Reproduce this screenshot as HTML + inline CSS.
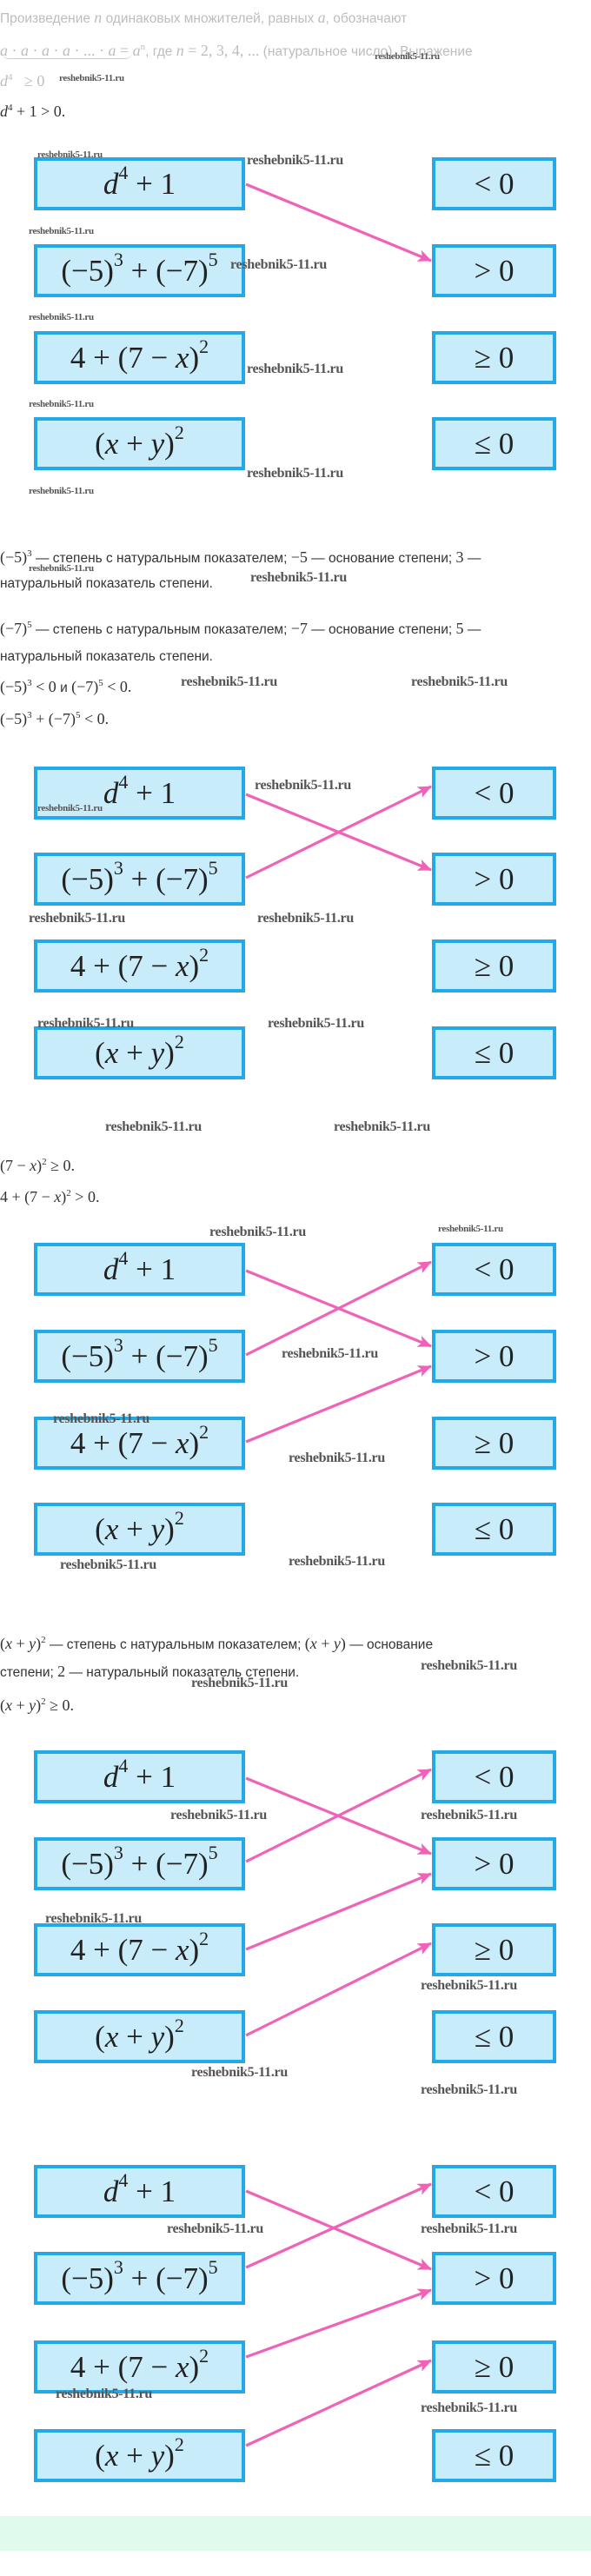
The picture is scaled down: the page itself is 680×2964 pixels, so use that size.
<!DOCTYPE html>
<html><head><meta charset="utf-8"><style>
*{margin:0;padding:0;box-sizing:border-box}
body{width:680px;height:2964px;position:relative;background:#fff;overflow:hidden;font-family:"Liberation Sans",sans-serif;color:#333}
.t{position:absolute;left:0;font-size:15.5px;white-space:nowrap;line-height:20px}
.m{font-family:"Liberation Serif",serif;font-size:18px}
.g{color:#bdbdbd}
.b{position:absolute;height:61px;border:4px solid #22a9ea;background:#c9ecfb;font-family:"Liberation Serif",serif;font-size:35px;color:#222;text-align:center;line-height:54px;white-space:nowrap}
.l{left:39px;width:243px}
.r{left:497px;width:143px}
.b sup{font-size:22px;line-height:0;position:relative;top:-4px;vertical-align:super}
.t sup{font-size:11px}
.w{position:absolute;font-family:"Liberation Serif",serif;font-weight:bold;color:#555;white-space:nowrap;letter-spacing:-0.3px}
.ws{font-size:11px}.wb{font-size:16px}
</style></head><body>

<div class="t g" style="top:10px">Произведение <i class="m">n</i> одинаковых множителей, равных <i class="m">a</i>, обозначают</div>
<div class="t g" style="top:44px"><span class="m"><i>a</i> · <i>a</i> · <i>a</i> · <i>a</i> · ... · <i>a</i> = <i>a</i><sup>n</sup></span>, где <span class="m"><i>n</i> = 2, 3, 4, ...</span> (натуральное число). Выражение</div>
<div style="position:absolute;left:2px;top:60px;width:150px;height:8px;border-bottom:1.5px solid #ccc;border-radius:0 0 8px 8px"></div>
<div class="t g m" style="top:79px"><i>d</i><sup>4</sup> &nbsp; ≥ 0</div>
<div class="t m" style="top:114px;color:#333"><i>d</i><sup>4</sup> + 1 &gt; 0.</div>

<div class="t" style="top:627px"><span class="m">(−5)<sup>3</sup></span> — степень с натуральным показателем; <span class="m">−5</span> — основание степени; <span class="m">3</span> —</div>
<div class="t" style="top:662px">натуральный показатель степени.</div>
<div class="t" style="top:709px"><span class="m">(−7)<sup>5</sup></span> — степень с натуральным показателем; <span class="m">−7</span> — основание степени; <span class="m">5</span> —</div>
<div class="t" style="top:746px">натуральный показатель степени.</div>
<div class="t" style="top:776px"><span class="m">(−5)<sup>3</sup> &lt; 0</span> и <span class="m">(−7)<sup>5</sup> &lt; 0.</span></div>
<div class="t m" style="top:813px">(−5)<sup>3</sup> + (−7)<sup>5</sup> &lt; 0.</div>

<div class="t m" style="top:1327px">(7 − <i>x</i>)<sup>2</sup> ≥ 0.</div>
<div class="t m" style="top:1363px">4 + (7 − <i>x</i>)<sup>2</sup> &gt; 0.</div>

<div class="t" style="top:1877px"><span class="m">(<i>x</i> + <i>y</i>)<sup>2</sup></span> — степень с натуральным показателем; <span class="m">(<i>x</i> + <i>y</i>)</span> — основание</div>
<div class="t" style="top:1913px">степени; <span class="m">2</span> — натуральный показатель степени.</div>
<div class="t m" style="top:1948px">(<i>x</i> + <i>y</i>)<sup>2</sup> ≥ 0.</div>

<!-- D1 -->
<div class="b l" style="top:181px"><i>d</i><sup>4</sup> + 1</div>
<div class="b l" style="top:281px">(−5)<sup>3</sup> + (−7)<sup>5</sup></div>
<div class="b l" style="top:381px">4 + (7 − <i>x</i>)<sup>2</sup></div>
<div class="b l" style="top:480px">(<i>x</i> + <i>y</i>)<sup>2</sup></div>
<div class="b r" style="top:181px">&lt; 0</div>
<div class="b r" style="top:281px">&gt; 0</div>
<div class="b r" style="top:381px">≥ 0</div>
<div class="b r" style="top:480px">≤ 0</div>
<!-- D2 -->
<div class="b l" style="top:882px"><i>d</i><sup>4</sup> + 1</div>
<div class="b l" style="top:981px">(−5)<sup>3</sup> + (−7)<sup>5</sup></div>
<div class="b l" style="top:1081px">4 + (7 − <i>x</i>)<sup>2</sup></div>
<div class="b l" style="top:1181px">(<i>x</i> + <i>y</i>)<sup>2</sup></div>
<div class="b r" style="top:882px">&lt; 0</div>
<div class="b r" style="top:981px">&gt; 0</div>
<div class="b r" style="top:1081px">≥ 0</div>
<div class="b r" style="top:1181px">≤ 0</div>
<!-- D3 -->
<div class="b l" style="top:1430px"><i>d</i><sup>4</sup> + 1</div>
<div class="b l" style="top:1530px">(−5)<sup>3</sup> + (−7)<sup>5</sup></div>
<div class="b l" style="top:1630px">4 + (7 − <i>x</i>)<sup>2</sup></div>
<div class="b l" style="top:1729px">(<i>x</i> + <i>y</i>)<sup>2</sup></div>
<div class="b r" style="top:1430px">&lt; 0</div>
<div class="b r" style="top:1530px">&gt; 0</div>
<div class="b r" style="top:1630px">≥ 0</div>
<div class="b r" style="top:1729px">≤ 0</div>
<!-- D4 -->
<div class="b l" style="top:2014px"><i>d</i><sup>4</sup> + 1</div>
<div class="b l" style="top:2114px">(−5)<sup>3</sup> + (−7)<sup>5</sup></div>
<div class="b l" style="top:2213px">4 + (7 − <i>x</i>)<sup>2</sup></div>
<div class="b l" style="top:2313px">(<i>x</i> + <i>y</i>)<sup>2</sup></div>
<div class="b r" style="top:2014px">&lt; 0</div>
<div class="b r" style="top:2114px">&gt; 0</div>
<div class="b r" style="top:2213px">≥ 0</div>
<div class="b r" style="top:2313px">≤ 0</div>
<!-- D5 -->
<div class="b l" style="top:2491px"><i>d</i><sup>4</sup> + 1</div>
<div class="b l" style="top:2591px">(−5)<sup>3</sup> + (−7)<sup>5</sup></div>
<div class="b l" style="top:2693px">4 + (7 − <i>x</i>)<sup>2</sup></div>
<div class="b l" style="top:2795px">(<i>x</i> + <i>y</i>)<sup>2</sup></div>
<div class="b r" style="top:2491px">&lt; 0</div>
<div class="b r" style="top:2591px">&gt; 0</div>
<div class="b r" style="top:2693px">≥ 0</div>
<div class="b r" style="top:2795px">≤ 0</div>

<div style="position:absolute;left:0;top:2895px;width:680px;height:40px;background:#e0fbee"></div>

<svg style="position:absolute;left:0;top:0" width="680" height="2964">
<defs><marker id="a" markerWidth="8" markerHeight="8" refX="7" refY="4" orient="auto" markerUnits="userSpaceOnUse" viewBox="0 0 8 8"><path d="M0,0 L8,4 L0,8 L2,4 Z" fill="#f062b8"/></marker>
<marker id="h" markerWidth="16" markerHeight="14" refX="15" refY="7" orient="auto" markerUnits="userSpaceOnUse"><path d="M0,0 L16,7 L0,14 L4,7 Z" fill="#f062b8"/></marker></defs>
<g stroke="#f062b8" stroke-width="3.2" fill="none" marker-end="url(#h)">
<line x1="283" y1="212" x2="496" y2="300"/>
<line x1="283" y1="914" x2="496" y2="1001"/>
<line x1="283" y1="1010" x2="496" y2="905"/>
<line x1="283" y1="1462" x2="496" y2="1549"/>
<line x1="283" y1="1559" x2="496" y2="1452"/>
<line x1="283" y1="1659" x2="496" y2="1572"/>
<line x1="283" y1="2046" x2="496" y2="2133"/>
<line x1="283" y1="2142" x2="496" y2="2036"/>
<line x1="283" y1="2243" x2="496" y2="2156"/>
<line x1="283" y1="2342" x2="496" y2="2236"/>
<line x1="283" y1="2521" x2="496" y2="2611"/>
<line x1="283" y1="2609" x2="496" y2="2513"/>
<line x1="283" y1="2712" x2="496" y2="2635"/>
<line x1="283" y1="2814" x2="496" y2="2716"/>
</g></svg>

<div class="w ws" style="left:431px;top:59px">reshebnik5-11.ru</div>
<div class="w ws" style="left:68px;top:84px">reshebnik5-11.ru</div>
<div class="w ws" style="left:43px;top:172px">reshebnik5-11.ru</div>
<div class="w wb" style="left:284px;top:176px">reshebnik5-11.ru</div>
<div class="w ws" style="left:33px;top:260px">reshebnik5-11.ru</div>
<div class="w wb" style="left:265px;top:296px">reshebnik5-11.ru</div>
<div class="w ws" style="left:33px;top:359px">reshebnik5-11.ru</div>
<div class="w wb" style="left:284px;top:416px">reshebnik5-11.ru</div>
<div class="w ws" style="left:33px;top:459px">reshebnik5-11.ru</div>
<div class="w wb" style="left:284px;top:536px">reshebnik5-11.ru</div>
<div class="w ws" style="left:33px;top:559px">reshebnik5-11.ru</div>
<div class="w ws" style="left:33px;top:648px">reshebnik5-11.ru</div>
<div class="w wb" style="left:288px;top:656px">reshebnik5-11.ru</div>
<div class="w wb" style="left:208px;top:776px">reshebnik5-11.ru</div>
<div class="w wb" style="left:473px;top:776px">reshebnik5-11.ru</div>
<div class="w ws" style="left:43px;top:924px">reshebnik5-11.ru</div>
<div class="w wb" style="left:293px;top:895px">reshebnik5-11.ru</div>
<div class="w wb" style="left:33px;top:1048px">reshebnik5-11.ru</div>
<div class="w wb" style="left:296px;top:1048px">reshebnik5-11.ru</div>
<div class="w wb" style="left:43px;top:1169px">reshebnik5-11.ru</div>
<div class="w wb" style="left:308px;top:1169px">reshebnik5-11.ru</div>
<div class="w wb" style="left:121px;top:1288px">reshebnik5-11.ru</div>
<div class="w wb" style="left:384px;top:1288px">reshebnik5-11.ru</div>
<div class="w wb" style="left:241px;top:1409px">reshebnik5-11.ru</div>
<div class="w ws" style="left:504px;top:1408px">reshebnik5-11.ru</div>
<div class="w wb" style="left:324px;top:1549px">reshebnik5-11.ru</div>
<div class="w wb" style="left:61px;top:1624px">reshebnik5-11.ru</div>
<div class="w wb" style="left:332px;top:1669px">reshebnik5-11.ru</div>
<div class="w wb" style="left:69px;top:1792px">reshebnik5-11.ru</div>
<div class="w wb" style="left:332px;top:1788px">reshebnik5-11.ru</div>
<div class="w wb" style="left:484px;top:1908px">reshebnik5-11.ru</div>
<div class="w wb" style="left:220px;top:1928px">reshebnik5-11.ru</div>
<div class="w wb" style="left:196px;top:2080px">reshebnik5-11.ru</div>
<div class="w wb" style="left:484px;top:2080px">reshebnik5-11.ru</div>
<div class="w wb" style="left:52px;top:2199px">reshebnik5-11.ru</div>
<div class="w wb" style="left:484px;top:2276px">reshebnik5-11.ru</div>
<div class="w wb" style="left:220px;top:2376px">reshebnik5-11.ru</div>
<div class="w wb" style="left:484px;top:2396px">reshebnik5-11.ru</div>
<div class="w wb" style="left:192px;top:2556px">reshebnik5-11.ru</div>
<div class="w wb" style="left:484px;top:2556px">reshebnik5-11.ru</div>
<div class="w wb" style="left:64px;top:2746px">reshebnik5-11.ru</div>
<div class="w wb" style="left:484px;top:2762px">reshebnik5-11.ru</div>
</body></html>
